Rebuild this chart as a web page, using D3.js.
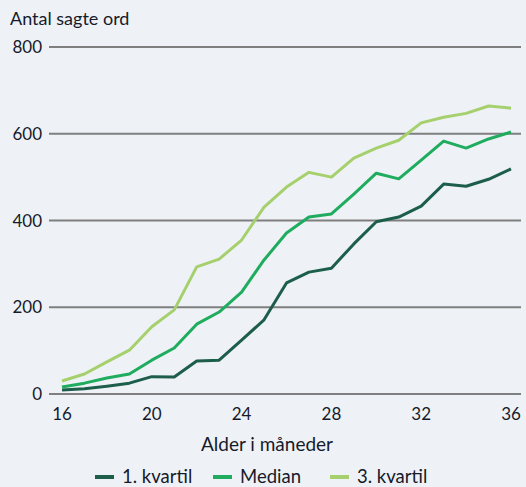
<!DOCTYPE html>
<html>
<head>
<meta charset="utf-8">
<script src="https://cdn.jsdelivr.net/npm/d3@7/dist/d3.min.js"></script>
<style>
  html, body { margin: 0; padding: 0; background: #eef2f6; }
  svg text { font-family: Lato, "Open Sans", sans-serif; fill: #161a2b; }
</style>
</head>
<body>
<svg id="chart" width="526" height="487"></svg>
<script>
// months of age
const months = d3.range(16, 37);
const q1 = [9, 12, 18, 25, 40, 39, 76, 78, 124, 171, 256, 281, 290, 346, 397, 408, 433, 484, 479, 495, 519];
const median = [16, 25, 37, 46, 78, 106, 161, 189, 235, 309, 371, 408, 415, 461, 509, 496, 539, 583, 567, 588, 604];
const q3 = [30, 46, 74, 101, 155, 194, 293, 311, 355, 431, 477, 511, 500, 544, 567, 585, 625, 638, 647, 664, 659];
const xTicks = [16, 20, 24, 28, 32, 36];
const yTicks = [0, 200, 400, 600, 800];
const seriesNames = ["1. kvartil", "Median", "3. kvartil"];
const colors = ["#1d5e4b", "#1fac5e", "#a6d06d"];

const svg = d3.select("#chart");

const x = d3.scaleLinear().domain([16, 36]).range([62, 511]);
const y = d3.scaleLinear().domain([0, 800]).range([394, 47]);

// gridlines + y labels
svg.append("g")
    .selectAll("line")
    .data(yTicks)
    .enter()
    .append("line")
    .attr("x1", 49)
    .attr("x2", 521)
    .attr("y1", d => y(d))
    .attr("y2", d => y(d))
    .attr("stroke", "#7f7f7f")
    .attr("stroke-width", 2);

svg.append("g")
    .selectAll("text")
    .data(yTicks)
    .enter()
    .append("text")
    .attr("x", 42)
    .attr("y", d => y(d) + 6)
    .attr("text-anchor", "end")
    .attr("font-size", 17)
    .text(d => d);

// x labels
svg.append("g")
    .selectAll("text")
    .data(xTicks)
    .enter()
    .append("text")
    .attr("x", d => x(d))
    .attr("y", 420)
    .attr("text-anchor", "middle")
    .attr("font-size", 17)
    .text(d => d);

svg.append("text")
    .attr("x", 10)
    .attr("y", 25)
    .attr("font-size", 18)
    .text("Antal sagte ord");

svg.append("text")
    .attr("x", 267)
    .attr("y", 451)
    .attr("text-anchor", "middle")
    .attr("font-size", 19)
    .text("Alder i måneder");

// lines
const line = d3.line()
    .x((d, i) => x(months[i]))
    .y(d => y(d));

[q1, median, q3].forEach((vals, i) => {
    svg.append("path")
        .datum(vals)
        .attr("fill", "none")
        .attr("stroke", colors[i])
        .attr("stroke-width", 3)
        .attr("stroke-linejoin", "round")
        .attr("d", line);
});

// legend
const legendX = [95, 213, 330];
const legend = svg.append("g");
seriesNames.forEach((name, i) => {
    legend.append("line")
        .attr("x1", legendX[i])
        .attr("x2", legendX[i] + 19)
        .attr("y1", 477)
        .attr("y2", 477)
        .attr("stroke", colors[i])
        .attr("stroke-width", 4);
    legend.append("text")
        .attr("x", legendX[i] + 27)
        .attr("y", 483)
        .attr("font-size", 18.5)
        .text(name);
});
</script>
</body>
</html>
